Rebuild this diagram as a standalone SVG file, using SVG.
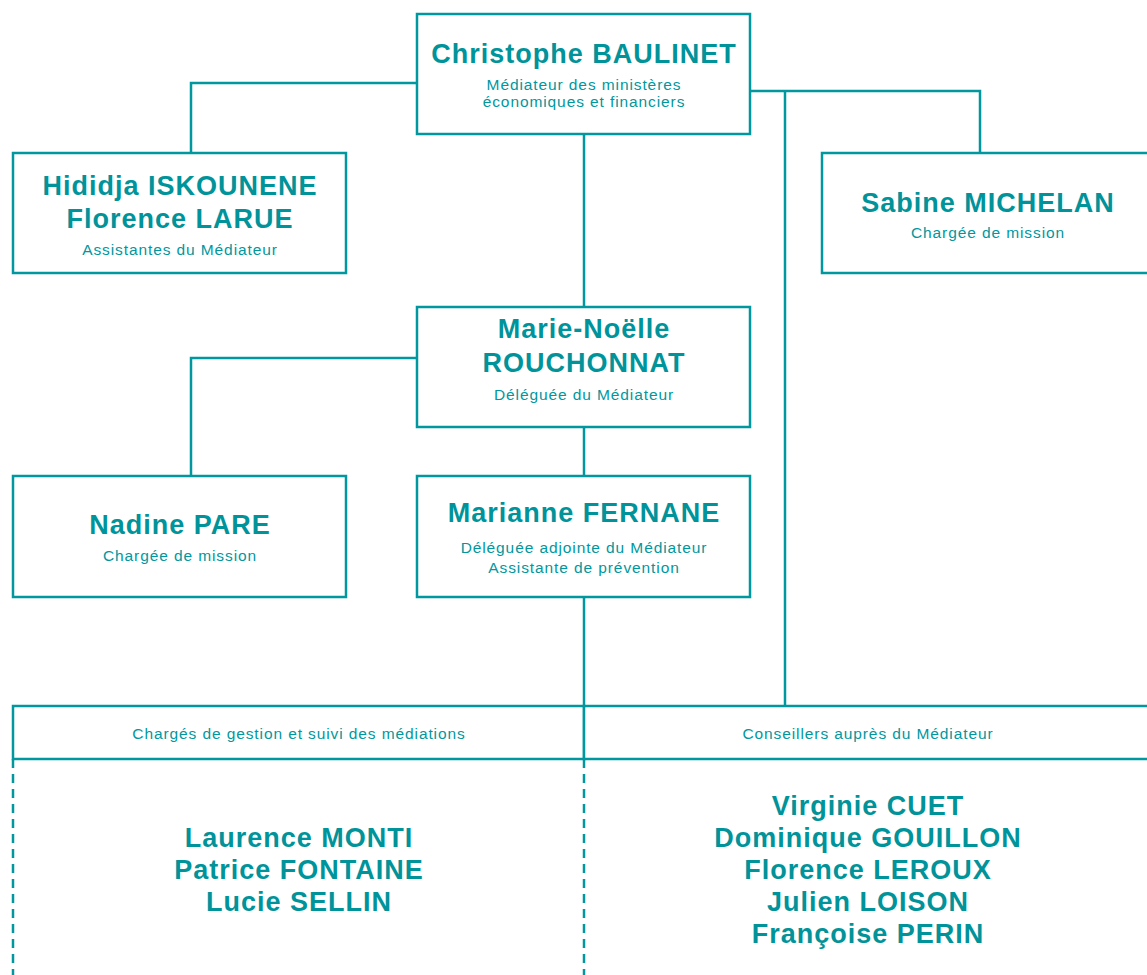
<svg xmlns="http://www.w3.org/2000/svg" width="1147" height="975" viewBox="0 0 1147 975">
<style>
.box{fill:#fff;stroke:#00979e;stroke-width:2.5}
.ln{fill:none;stroke:#00979e;stroke-width:2.5}
.dash{fill:none;stroke:#00979e;stroke-width:2.5;stroke-dasharray:9 6}
.n{font-family:"Liberation Sans",Arial,sans-serif;font-weight:bold;font-size:27px;letter-spacing:1px;fill:#00939a;text-anchor:middle}
.s{font-family:"Liberation Sans",Arial,sans-serif;font-size:15.5px;letter-spacing:0.9px;fill:#00979e;text-anchor:middle}
</style>
<rect width="1147" height="975" fill="#fff"/>
<g id="connectors">
<path class="ln" d="M417 83H191V153"/>
<path class="ln" d="M750 91H980V153"/>
<path class="ln" d="M785 91V706"/>
<path class="ln" d="M584 134V307"/>
<path class="ln" d="M417 358H191V476"/>
<path class="ln" d="M584 427V476"/>
<path class="ln" d="M584 597V706"/>
</g>
<g id="baulinet">
<rect class="box" x="417" y="14" width="333" height="120"/>
<text class="n" x="584" y="63">Christophe BAULINET</text>
<text class="s" x="584" y="90">Médiateur des ministères</text>
<text class="s" x="584" y="107">économiques et financiers</text>
</g>
<g id="assistantes">
<rect class="box" x="13" y="153" width="333" height="120"/>
<text class="n" x="180" y="195">Hididja ISKOUNENE</text>
<text class="n" x="180" y="228">Florence LARUE</text>
<text class="s" x="180" y="255">Assistantes du Médiateur</text>
</g>
<g id="michelan">
<rect class="box" x="822" y="153" width="340" height="120"/>
<text class="n" x="988" y="212">Sabine MICHELAN</text>
<text class="s" x="988" y="238">Chargée de mission</text>
</g>
<g id="rouchonnat">
<rect class="box" x="417" y="307" width="333" height="120"/>
<text class="n" x="584" y="338">Marie-Noëlle</text>
<text class="n" x="584" y="372">ROUCHONNAT</text>
<text class="s" x="584" y="400">Déléguée du Médiateur</text>
</g>
<g id="pare">
<rect class="box" x="13" y="476" width="333" height="121"/>
<text class="n" x="180" y="534">Nadine PARE</text>
<text class="s" x="180" y="561">Chargée de mission</text>
</g>
<g id="fernane">
<rect class="box" x="417" y="476" width="333" height="121"/>
<text class="n" x="584" y="522">Marianne FERNANE</text>
<text class="s" x="584" y="553">Déléguée adjointe du Médiateur</text>
<text class="s" x="584" y="573">Assistante de prévention</text>
</g>
<g id="gestion">
<rect class="box" x="13" y="706" width="571" height="53"/>
<text class="s" x="299" y="739">Chargés de gestion et suivi des médiations</text>
<path class="dash" d="M13 759V975M584 759V975"/>
<text class="n" x="299" y="847">Laurence MONTI</text>
<text class="n" x="299" y="879">Patrice FONTAINE</text>
<text class="n" x="299" y="911">Lucie SELLIN</text>
</g>
<g id="conseillers">
<rect class="box" x="584" y="706" width="580" height="53"/>
<text class="s" x="868" y="739">Conseillers auprès du Médiateur</text>
<text class="n" x="868" y="815">Virginie CUET</text>
<text class="n" x="868" y="847">Dominique GOUILLON</text>
<text class="n" x="868" y="879">Florence LEROUX</text>
<text class="n" x="868" y="911">Julien LOISON</text>
<text class="n" x="868" y="943">Françoise PERIN</text>
</g>
</svg>
